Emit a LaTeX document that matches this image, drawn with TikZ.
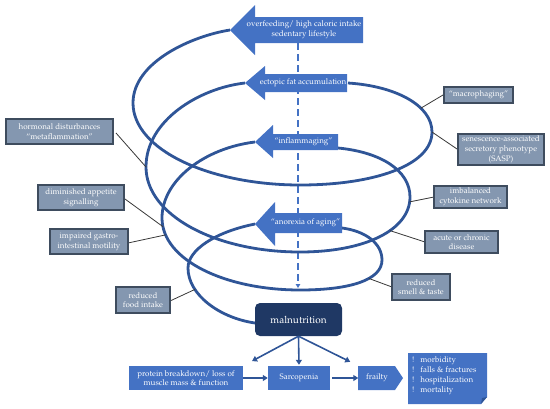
\documentclass[tikz,border=0pt]{standalone}
\usepackage[T1]{fontenc}
\usepackage{mathpazo}
\usetikzlibrary{arrows.meta}
\definecolor{spiralc}{HTML}{2F5597}
\definecolor{boxblue}{HTML}{4472C4}
\definecolor{grayfill}{HTML}{8497B0}
\definecolor{grayline}{HTML}{3E4C5E}
\definecolor{navy}{HTML}{1F3864}
\definecolor{connc}{HTML}{383838}
\begin{document}
\begin{tikzpicture}[x=1pt,y=-1pt,
  font=\fontsize{8}{9.6}\selectfont,
  graybox/.style={draw=grayline, line width=1.1pt, fill=grayfill, text=white, align=center, inner sep=0pt},
  bluebox/.style={fill=boxblue, text=white, align=center, inner sep=0pt},
  lbl/.style={text=white, align=center, inner sep=0pt},
  conn/.style={draw=connc, line width=0.8pt},
  spir/.style={draw=spiralc, line width=2.8pt},
  down/.style={draw=spiralc, line width=1.6pt, -{Triangle[length=5pt,width=6pt]}}]
\useasboundingbox (0,0) rectangle (550,408);

% dashed central axis
\coordinate (dtop) at (298,43);
\coordinate (dend) at (298,288);
\draw[boxblue, line width=1.2pt, dash pattern=on 7pt off 4pt, -{Triangle[length=4pt,width=4.5pt]}] (dtop) -- (dend);

% spiral loops
\draw[spir] (230,30) .. controls (192,36) and (133,62) .. (133,103)
  .. controls (133,150) and (210,185) .. (300,185)
  .. controls (375,185) and (432,165) .. (432,132) coordinate (R1)
  .. controls (432,105) and (395,86) .. (348,83) coordinate[pos=0.33] (cmac);
\draw[spir] (245,83) .. controls (200,88) and (146,120) .. (146,167) coordinate (L2)
  .. controls (146,215) and (215,252) .. (300,252)
  .. controls (365,252) and (410,230) .. (410,197) coordinate[pos=0.6] (cacu) coordinate[pos=0.95] (cimb)
  .. controls (410,170) and (380,152) .. (338,148);
\draw[spir] (255,142) .. controls (205,148) and (162,180) .. (162,218)
  .. controls (162,260) and (225,290) .. (300,290) coordinate[pos=0.07] (cdim) coordinate[pos=0.14] (cimp)
  .. controls (350,290) and (382,280) .. (382,260) coordinate[pos=0.62] (csml)
  .. controls (382,243) and (365,231) .. (342,228);
\draw[spir] (255,224) .. controls (215,232) and (188,250) .. (188,268)
  .. controls (188,295) and (220,318) .. (255,323) coordinate[pos=0.28] (cfood);

% block arrows
\fill[boxblue] (230,30) -- (255,5) -- (255,17) -- (363,17) -- (363,43) -- (255,43) -- (255,55) -- cycle;
\fill[boxblue] (245,83) -- (265,66) -- (265,74) -- (347,74) -- (347,92) -- (265,92) -- (265,100) -- cycle;
\fill[boxblue] (255,142) -- (273,125) -- (273,134) -- (338,134) -- (338,150) -- (273,150) -- (273,158) -- cycle;
\fill[boxblue] (255,224) -- (275,202) -- (275,213) -- (342,213) -- (342,233) -- (275,233) -- (275,246) -- cycle;
\node[lbl] (a1) at (304,30) {overfeeding/ high caloric intake\\sedentary lifestyle};
\node[lbl] (a2) at (303,83) {ectopic fat accumulation};
\node[lbl] (a3) at (303.5,142) {``inflammaging''};
\node[lbl] (a4) at (305.5,223) {``anorexia of aging''};

% connectors
\draw[conn] (116,133) coordinate (hc) -- (L2);
\draw[conn] (125,199) coordinate (dc) -- (cdim);
\draw[conn] (128,243) coordinate (ic) -- (cimp);
\draw[conn] (170,301) coordinate (fc) -- (cfood);
\draw[conn] (443,95) coordinate (mc) -- (cmac);
\draw[conn] (457,149) coordinate (sc) -- (R1);
\draw[conn] (434,197) coordinate (bc) -- (cimb);
\draw[conn] (425,242) coordinate (ac) -- (cacu);
\draw[conn] (392,287) coordinate (tc) -- (csml);

% gray boxes
\node[graybox, minimum width=107pt, minimum height=25pt] (hormonal) at (59.5,131.5) {hormonal disturbances\\``metaflammation''};
\node[graybox, minimum width=86pt, minimum height=25pt] (appetite) at (81,197.5) {diminished appetite\\signalling};
\node[graybox, minimum width=78pt, minimum height=25pt] (motility) at (89,241.5) {impaired gastro-\\intestinal motility};
\node[graybox, minimum width=54pt, minimum height=26pt] (food) at (143,300) {reduced\\food intake};
\node[graybox, minimum width=69pt, minimum height=16pt] (macro) at (478.5,95) {``macrophaging''};
\node[graybox, minimum width=86pt, minimum height=31pt] (sasp) at (501,149.5) {senescence-associated\\secretory phenotype\\(SASP)};
\node[graybox, minimum width=73pt, minimum height=22pt] (imbal) at (470.5,197) {imbalanced\\cytokine network};
\node[graybox, minimum width=73pt, minimum height=22pt] (acute) at (461.5,242) {acute or chronic\\disease};
\node[graybox, minimum width=58pt, minimum height=26pt] (smell) at (421,287) {reduced\\smell \& taste};

% malnutrition and consequences
\node[fill=navy, rounded corners=5pt, minimum width=87pt, minimum height=33pt, text=white, inner sep=0pt,
  font=\fontsize{10}{12}\selectfont] (mal) at (298.5,319.5) {malnutrition};
\node[bluebox, minimum width=114pt, minimum height=24pt] (prot) at (186,378) {protein breakdown/ loss of\\muscle mass \& function};
\node[bluebox, minimum width=62pt, minimum height=24pt] (sarco) at (299,378) {Sarcopenia};
\fill[boxblue] (358,366) -- (395,366) -- (403,378) -- (395,390) -- (358,390) -- cycle;
\node[lbl, minimum width=37pt, minimum height=24pt] (frail) at (377,378) {frailty};
\fill[boxblue] (408,353) -- (487,353) -- (487,397) -- (481,404) -- (408,404) -- cycle;
\fill[spiralc] (481,404) -- (482,398) -- (487,397) -- cycle;
\node[lbl, align=left, anchor=west, font=\fontsize{8}{10}\selectfont] (outc) at (412,376)
  {!\hspace{6pt}morbidity\\!\hspace{6pt}falls \& fractures\\!\hspace{6pt}hospitalization\\!\hspace{6pt}mortality};

\draw[down, shorten >=10pt] (mal.south) -- (prot.north east);
\draw[down, shorten >=1pt] (mal.south) -- (sarco.north);
\draw[down, shorten >=9pt] (mal.south) -- (frail.north west);
\draw[down] (prot.east) -- (sarco.west);
\draw[down, shorten <=2pt] (sarco.east) -- (frail.west);
\end{tikzpicture}
\end{document}
